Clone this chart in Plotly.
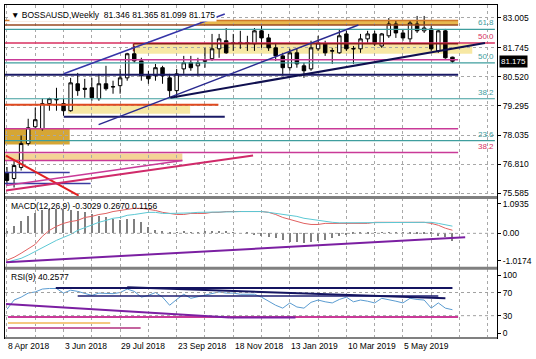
import plotly.graph_objects as go
from plotly.subplots import make_subplots

# ---------------- data ----------------
bars = list(range(64))
opens = [76.47, 76.21, 76.68, 77.69, 78.40, 78.32, 79.38, 79.54, 79.38, 79.08,
         80.22, 80.03, 80.05, 79.59, 80.22, 80.10, 80.14, 80.47, 81.49, 81.19,
         80.56, 80.56, 80.90, 80.47, 79.93, 80.85, 81.11, 80.98, 81.17, 81.28,
         81.70, 82.04, 81.93, 81.97, 81.94, 81.91, 82.46, 82.16, 81.74, 81.40,
         80.90, 81.53, 80.98, 80.85, 81.70, 81.91, 81.60, 81.53, 82.33, 81.69,
         81.70, 82.12, 82.33, 81.82, 82.25, 82.75, 82.37, 82.12, 82.75, 82.46,
         82.54, 81.61, 82.46, 81.346]
highs = [76.70, 76.97, 78.03, 78.74, 79.21, 79.59, 79.63, 80.05, 79.59, 80.47,
         80.68, 80.43, 80.47, 80.64, 80.98, 80.35, 80.85, 81.53, 81.82, 81.32,
         80.77, 81.06, 80.98, 80.64, 80.85, 81.40, 81.40, 81.32, 81.74, 82.33,
         82.33, 82.58, 82.33, 82.46, 82.25, 82.58, 82.67, 82.33, 81.95, 81.53,
         81.70, 81.70, 81.11, 82.04, 82.25, 82.04, 81.74, 82.54, 82.46, 81.82,
         82.33, 82.46, 82.46, 82.37, 83.00, 82.88, 82.54, 82.88, 83.09, 83.09,
         82.67, 82.54, 82.54, 81.365]
lows = [75.92, 75.83, 76.55, 77.60, 78.36, 78.24, 79.08, 79.08, 78.87, 79.04,
        79.71, 79.63, 79.50, 79.50, 79.93, 79.80, 79.80, 80.35, 81.11, 80.35,
        80.22, 80.35, 80.22, 79.63, 79.63, 80.64, 80.77, 80.56, 80.90, 81.19,
        81.32, 81.49, 81.61, 81.70, 81.61, 81.61, 81.74, 81.61, 81.19, 80.56,
        80.77, 80.90, 80.47, 80.77, 81.61, 81.40, 81.06, 81.49, 81.61, 81.06,
        81.53, 81.95, 81.82, 81.74, 82.16, 82.16, 82.04, 81.95, 82.37, 82.37,
        81.61, 81.53, 81.28, 81.099]
closes = [76.13, 76.76, 77.69, 78.36, 78.70, 79.38, 79.59, 79.56, 79.08, 80.26,
          79.93, 79.99, 79.63, 80.22, 80.01, 80.09, 80.47, 81.49, 81.19, 80.56,
          80.43, 80.90, 80.56, 79.93, 80.64, 81.11, 80.90, 81.11, 81.21, 81.70,
          82.12, 81.53, 81.96, 81.93, 81.96, 82.46, 82.16, 81.74, 81.40, 80.90,
          81.53, 81.06, 80.77, 81.74, 81.95, 81.53, 81.62, 82.25, 81.70, 81.71,
          82.12, 82.33, 81.91, 82.33, 82.75, 82.37, 82.16, 82.79, 82.46, 82.58,
          81.70, 82.46, 81.32, 81.175]

macd_hist = [0.05, 0.25, 0.45, 0.62, 0.75, 0.85, 0.90, 0.90, 0.88, 0.85,
             0.80, 0.76, 0.70, 0.62, 0.58, 0.52, 0.48, 0.52, 0.50, 0.40,
             0.22, 0.12, 0.04, -0.02, 0.02, 0.05, 0.03, 0.02, 0.04, 0.06,
             0.05, 0.04, 0.02, 0.00, -0.05, -0.08, -0.12, -0.15, -0.20, -0.28,
             -0.33, -0.35, -0.37, -0.33, -0.30, -0.25, -0.20, -0.12, -0.08, -0.05,
             -0.03, -0.02, 0.02, 0.03, 0.02, 0.02, 0.01, -0.02, -0.03, -0.04,
             -0.05, -0.10, -0.15, -0.3029]
macd_red = [-1.00, -0.89, -0.74, -0.59, -0.41, -0.11, 0.11, 0.26, 0.37, 0.44,
            0.48, 0.59, 0.63, 0.70, 0.74, 0.81, 0.85, 0.89, 0.93, 0.93,
            0.89, 0.85, 0.78, 0.74, 0.70, 0.70, 0.74, 0.74, 0.74, 0.78,
            0.78, 0.81, 0.81, 0.81, 0.81, 0.81, 0.81, 0.78, 0.70, 0.59,
            0.52, 0.44, 0.37, 0.33, 0.33, 0.37, 0.37, 0.37, 0.37, 0.37,
            0.37, 0.37, 0.41, 0.41, 0.41, 0.41, 0.41, 0.41, 0.41, 0.41,
            0.37, 0.30, 0.19, 0.1156]
macd_cyan = [-1.07, -1.00, -0.93, -0.81, -0.67, -0.56, -0.41, -0.26, -0.15, -0.04,
             0.11, 0.22, 0.33, 0.41, 0.48, 0.56, 0.59, 0.67, 0.70, 0.74,
             0.78, 0.78, 0.74, 0.74, 0.74, 0.74, 0.76, 0.78, 0.78, 0.78,
             0.79, 0.80, 0.80, 0.81, 0.81, 0.81, 0.81, 0.78, 0.74, 0.70,
             0.67, 0.63, 0.56, 0.52, 0.48, 0.44, 0.41, 0.39, 0.39, 0.39,
             0.39, 0.39, 0.39, 0.39, 0.39, 0.39, 0.39, 0.39, 0.39, 0.41,
             0.41, 0.37, 0.33, 0.2670]
rsi = [41, 57, 62, 69, 71, 76, 77, 77, 69, 74,
       72, 69, 65, 69, 69, 68, 70, 76, 72, 62,
       65, 70, 62, 48, 58, 67, 60, 63, 66, 69,
       71, 69, 69, 67, 67, 67, 62, 55, 48, 43,
       52, 45, 43, 53, 57, 54, 52, 58, 62, 54,
       57, 55, 52, 60, 58, 55, 52, 60, 58, 57,
       43, 52, 43, 40.2577]

price_ticks = [83.005, 81.745, 80.520, 79.295, 78.035, 76.810, 75.585]
date_label_bars = [0, 8, 16, 24, 32, 40, 48, 56]
date_labels = ["8 Apr 2018", "3 Jun 2018", "29 Jul 2018", "23 Sep 2018",
               "18 Nov 2018", "13 Jan 2019", "10 Mar 2019", "5 May 2019"]

# drawn horizontal levels: price, start bar, end bar
TEAL, MAG, NAVY = "#3f9e9e", "#c93a98", "#1a1a66"
price_levels = [82.90, 82.71, 82.52, 81.95, 81.233, 81.106, 80.60, 79.587,
                79.334, 78.828, 78.321, 77.815, 77.309, 76.971, 76.465, 76.001]
level_start = [-0.3, -0.3, -0.3, -0.3, -0.3, -0.3, -0.3, -0.3,
               -0.3, 8.03, -0.3, -0.3, -0.3, -0.3, -0.3, -0.3]
level_end = [63.8, 63.8, 69.0, 69.0, 63.8, 69.0, 63.8, 69.0,
             29.9, 30.8, 63.8, 69.0, 63.8, 24.8, 8.87, 11.83]
level_color = ["#d0782a", "#9a4a22", TEAL, "#d93060", MAG, TEAL, NAVY, TEAL,
               "#e04a20", NAVY, MAG, TEAL, MAG, MAG, "#3a3aa0", "#3a3aa0"]
level_width = [1.5, 1.5, 1.2, 1.5, 1.5, 1.2, 2, 1.2, 2, 2, 1.5, 1.2, 1.5, 1.5, 1.5, 1.5]

# zones: bar0, bar1, price_low, price_high
zone_b0 = [27.3, 17.9, 8.6, -0.3, -0.3]
zone_b1 = [63.8, 65.8, 25.9, 8.87, 24.8]
zone_lo = [82.71, 81.49, 78.95, 77.65, 76.97]
zone_hi = [82.90, 81.91, 79.33, 78.32, 77.27]
zone_col = ["#e8b84e", "#f7e8a4", "#f7e8a4", "#d6a634", "#f4d496"]

# trend lines: (bar0, price0, bar1, price1)
trend_lines = [(8.03, 80.642, 30.8, 83.174), (12.96, 78.49, 49.7, 82.71),
               (23.1, 79.63, 67.6, 81.95), (-0.14, 77.18, 10.14, 75.49),
               (-0.14, 75.705, 34.8, 77.182), (-0.14, 75.92, 24.8, 76.97)]
trend_col = ["#3535a8", "#2a2a90", "#101050", "#e02020", "#d02a6a", "#c93a98"]
trend_w = [1.5, 1.5, 2, 2, 2, 1.5]

fib_text = ["61.8", "50.0", "50.0", "38.2", "23.6", "38.2"]
fib_price = [82.52, 81.95, 81.106, 79.587, 77.815, 77.309]
fib_col = [TEAL, "#d93060", TEAL, TEAL, TEAL, "#d93060"]

macd_trend = (-0.14, -1.074, 64.8, -0.148)
rsi_levels = [27.6, 17.2, 8.6, 77.6, 64.0]
rsi_lv_start = [0.14, 0.14, 0.14, 6.9, 10.0]
rsi_lv_end = [63.8, 14.6, 18.9, 63.0, 61.0]
rsi_lv_col = ["#c93a98", "#f5c880", "#b0307e", "#141460", "#1e1e70"]
rsi_lv_w = [2, 2, 1.5, 2, 1.5]
rsi_trend = [(-0.14, 50.0, 31.5, 27.0), (31.5, 27.0, 40.8, 27.0), (17.0, 79.0, 62.0, 60.0)]
rsi_trend_col = ["#7b1fa2", "#7b1fa2", "#141460"]

# ---------------- figure ----------------
FONT = "Liberation Sans"
fig = make_subplots(rows=3, cols=1, shared_xaxes=True)

fig.add_trace(go.Candlestick(x=bars, open=opens, high=highs, low=lows, close=closes,
                             increasing=dict(line=dict(color="black", width=1), fillcolor="white"),
                             decreasing=dict(line=dict(color="black", width=1), fillcolor="black"),
                             whiskerwidth=0, showlegend=False, hoverinfo="skip"), row=1, col=1)

fig.add_trace(go.Bar(x=bars, y=macd_hist, marker_color="#808080", width=0.16,
                     marker_line_width=0, showlegend=False), row=2, col=1)
fig.add_trace(go.Scatter(x=bars, y=macd_red, mode="lines", line=dict(color="#e06060", width=1),
                         showlegend=False), row=2, col=1)
fig.add_trace(go.Scatter(x=bars, y=macd_cyan, mode="lines", line=dict(color="#5cc8d4", width=1),
                         showlegend=False), row=2, col=1)
fig.add_trace(go.Scatter(x=bars, y=rsi, mode="lines", line=dict(color="#5a9bd0", width=1),
                         showlegend=False), row=3, col=1)

shapes = []
for b0, b1, lo, hi, c in zip(zone_b0, zone_b1, zone_lo, zone_hi, zone_col):
    shapes.append(dict(type="rect", xref="x", yref="y", x0=b0, x1=b1, y0=lo, y1=hi,
                       fillcolor=c, line_width=0, layer="below"))
for p, s, e, c, w in zip(price_levels, level_start, level_end, level_color, level_width):
    shapes.append(dict(type="line", xref="x", yref="y", x0=s, x1=e, y0=p, y1=p,
                       line=dict(color=c, width=w)))
shapes.append(dict(type="line", xref="x", yref="y", x0=17.9, x1=63.8, y0=81.91, y1=81.91,
                   line=dict(color="#8b1c1c", width=1.5)))
shapes.append(dict(type="line", xref="x", yref="y", x0=17.9, x1=17.9, y0=81.91, y1=81.60,
                   line=dict(color="#8b1c1c", width=1.5)))
for (b0, p0, b1, p1), c, w in zip(trend_lines, trend_col, trend_w):
    shapes.append(dict(type="line", xref="x", yref="y", x0=b0, x1=b1, y0=p0, y1=p1,
                       line=dict(color=c, width=w)))
b0, v0, b1, v1 = macd_trend
shapes.append(dict(type="line", xref="x2", yref="y2", x0=b0, x1=b1, y0=v0, y1=v1,
                   line=dict(color="#7b1fa2", width=2)))
shapes.append(dict(type="line", xref="x2 domain", yref="y2", x0=0, x1=1, y0=0, y1=0,
                   line=dict(color="#a0a0a0", width=1, dash="3px,3px")))
for v in [70, 30]:
    shapes.append(dict(type="line", xref="x3 domain", yref="y3", x0=0, x1=1, y0=v, y1=v,
                       line=dict(color="#a0a0a0", width=1, dash="3px,3px")))
for v, s, e, c, w in zip(rsi_levels, rsi_lv_start, rsi_lv_end, rsi_lv_col, rsi_lv_w):
    shapes.append(dict(type="line", xref="x3", yref="y3", x0=s, x1=e, y0=v, y1=v,
                       line=dict(color=c, width=w)))
for (b0, v0, b1, v1), c in zip(rsi_trend, rsi_trend_col):
    shapes.append(dict(type="line", xref="x3", yref="y3", x0=b0, x1=b1, y0=v0, y1=v1,
                       line=dict(color=c, width=2)))
# panel separators
for yy in [0.4222, 0.2096]:
    shapes.append(dict(type="line", xref="paper", yref="paper", x0=0, x1=1.0, y0=yy, y1=yy,
                       line=dict(color="#808080", width=3)))
shapes.append(dict(type="line", xref="paper", yref="paper", x0=0, x1=1.0, y0=0, y1=0,
                   line=dict(color="#808080", width=2)))

annotations = []
for t, p, c in zip(fib_text, fib_price, fib_col):
    annotations.append(dict(text=t, xref="x domain", yref="y", x=0.997, y=p, xanchor="right",
                            yanchor="bottom", showarrow=False, font=dict(family=FONT, size=8, color=c)))
annotations.append(dict(text="81.175", xref="paper", yref="y", x=1.004, y=81.175, xanchor="left",
                        yanchor="middle", showarrow=False, bgcolor="black",
                        font=dict(family=FONT, size=8, color="white")))
annotations.append(dict(text="\u25bc BOSSAUSD,Weekly  81.346 81.365 81.099 81.175", xref="paper",
                        yref="paper", x=0.008, y=0.99, xanchor="left", yanchor="top", showarrow=False,
                        font=dict(family=FONT, size=8.5, color="black"), bgcolor="white"))
annotations.append(dict(text="MACD(12,26,9) -0.3029 0.2670 0.1156", xref="paper", yref="paper",
                        x=0.008, y=0.417, xanchor="left", yanchor="top", showarrow=False,
                        font=dict(family=FONT, size=8.5, color="black")))
annotations.append(dict(text="RSI(9) 40.2577", xref="paper", yref="paper",
                        x=0.008, y=0.204, xanchor="left", yanchor="top", showarrow=False,
                        font=dict(family=FONT, size=8.5, color="black")))
for b, t in zip(date_label_bars, date_labels):
    annotations.append(dict(text=t, xref="x3", yref="paper", x=b - 0.1, y=-0.024, xanchor="left",
                            yanchor="middle", showarrow=False, font=dict(family=FONT, size=8.5, color="black")))

fig.update_layout(width=536, height=359, margin=dict(l=4, r=38, t=4, b=21),
                  paper_bgcolor="white", plot_bgcolor="white", showlegend=False,
                  shapes=shapes, annotations=annotations, bargap=0, hovermode=False)

xcommon = dict(range=[-0.28, 69.3], tick0=0, dtick=4, showgrid=True, gridcolor="#a8a8a8",
               griddash="3px,3px", gridwidth=1, showticklabels=False, zeroline=False,
               showline=True, mirror=True, linecolor="black", linewidth=1,
               rangeslider=dict(visible=False), ticks="")
fig.update_xaxes(**xcommon)
fig.update_layout(
    yaxis=dict(domain=[0.425, 1.0], range=[75.452, 83.553], side="right", tickvals=price_ticks,
               ticktext=[f"{v:.3f}" for v in price_ticks], showgrid=True, gridcolor="#a8a8a8",
               griddash="3px,3px", ticks="outside", ticklen=3, tickcolor="black",
               showline=True, mirror=True, linecolor="black", zeroline=False,
               tickfont=dict(family=FONT, size=8.5, color="black")),
    yaxis2=dict(domain=[0.2126, 0.419], range=[-1.259, 1.296], side="right",
                tickvals=[1.0935, 0, -1.0174], ticktext=["1.0935", "0.00", "-1.0174"],
                showgrid=False, ticks="outside", ticklen=3, tickcolor="black", zeroline=False,
                showline=True, mirror=True, linecolor="black",
                tickfont=dict(family=FONT, size=8.5, color="black")),
    yaxis3=dict(domain=[0.0, 0.2066], range=[-8.6, 110.3], side="right",
                tickvals=[100, 70, 30, 0], ticktext=["100", "70", "30", "0"],
                showgrid=False, ticks="outside", ticklen=3, tickcolor="black", zeroline=False,
                showline=True, mirror=True, linecolor="black",
                tickfont=dict(family=FONT, size=8.5, color="black")),
)

fig.write_html("out.html", config={"displayModeBar": False},
               post_script="document.body.style.margin='0';")
